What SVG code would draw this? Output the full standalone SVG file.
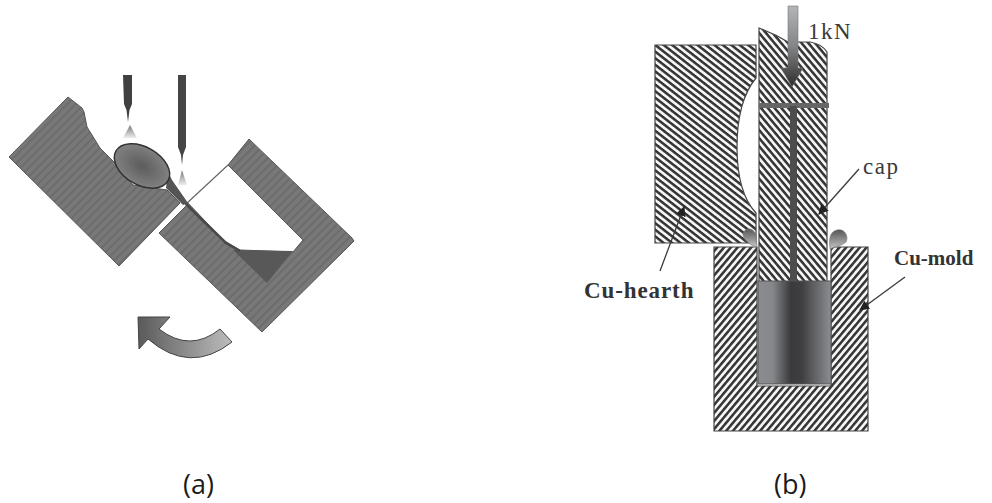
<svg xmlns="http://www.w3.org/2000/svg" width="992" height="503" viewBox="0 0 992 503">
<style>
.lbl{font-family:"Open Sans","Liberation Sans",sans-serif;font-size:27px;fill:#1a1a1a}
.ser{font-family:"Liberation Serif",serif;fill:#3a3a3a;font-size:23px}
.bold{font-family:"Liberation Serif",serif;font-weight:bold;fill:#333}
.hatchA{fill:url(#hA);stroke:#444;stroke-width:1.2}
.hatchB{fill:url(#hB);stroke:#444;stroke-width:1.2}
.hatchC{fill:url(#hC);stroke:#444;stroke-width:1.2}
.lead{stroke:#3a3a3a;stroke-width:1.3;fill:none}
.solid{fill:url(#sd);stroke:#555;stroke-width:1}
</style>
<defs>
<pattern id="hA" width="5.2" height="5.2" patternUnits="userSpaceOnUse" patternTransform="rotate(38)"><rect width="5.2" height="5.2" fill="#f6f6f6"/><rect width="5.2" height="2.5" fill="#333"/></pattern>
<pattern id="hB" width="5.2" height="5.2" patternUnits="userSpaceOnUse" patternTransform="rotate(50)"><rect width="5.2" height="5.2" fill="#f6f6f6"/><rect width="5.2" height="2.5" fill="#333"/></pattern>
<pattern id="hC" width="5.2" height="5.2" patternUnits="userSpaceOnUse" patternTransform="rotate(-50)"><rect width="5.2" height="5.2" fill="#f6f6f6"/><rect width="5.2" height="2.5" fill="#333"/></pattern>
<pattern id="sd" width="6" height="6" patternUnits="userSpaceOnUse" patternTransform="rotate(45)"><rect width="6" height="6" fill="#787878"/><rect width="2" height="6" fill="#6c6c6c"/></pattern>
<linearGradient id="cyl" x1="0" x2="1" y1="0" y2="0"><stop offset="0" stop-color="#8a8c90"/><stop offset=".2" stop-color="#85878a"/><stop offset=".45" stop-color="#3a3a3c"/><stop offset=".6" stop-color="#3f3f41"/><stop offset="1" stop-color="#8c8e92"/></linearGradient>
<linearGradient id="press" x1="0" x2="0" y1="0" y2="1"><stop offset="0" stop-color="#b4b5b7"/><stop offset=".5" stop-color="#838486"/><stop offset="1" stop-color="#2c2c2c"/></linearGradient>
<linearGradient id="drop" x1="0" x2="0" y1="0" y2="1"><stop offset="0" stop-color="#555"/><stop offset="1" stop-color="#c4c4c4"/></linearGradient>
<linearGradient id="curve" x1="0" x2="1" y1="0" y2="0"><stop offset="0" stop-color="#5a5a5a"/><stop offset="1" stop-color="#bdbdbd"/></linearGradient>
<linearGradient id="spray" x1="0" x2="0" y1="0" y2="1"><stop offset="0" stop-color="#777"/><stop offset="1" stop-color="#eee"/></linearGradient>
<radialGradient id="melt"><stop offset="0" stop-color="#5c5c5c"/><stop offset="1" stop-color="#808080"/></radialGradient>
<marker id="ah" markerWidth="11" markerHeight="11" refX="9" refY="5" orient="auto" markerUnits="userSpaceOnUse"><path d="M0,0L10,5L0,10Z" fill="#222"/></marker>
<filter id="soft" x="-5%" y="-5%" width="110%" height="110%"><feGaussianBlur stdDeviation="0.6"/></filter>
</defs>
<rect width="992" height="503" fill="#fff"/>
<g id="panel-a" filter="url(#soft)">
<g id="left-block"><path class="solid" d="M68,97L82,108L84,112L87,127L100,148L115,163L133,185L167,190L180,203L119,266L9,157Z"/></g>
<g id="right-mold"><path class="solid" d="M249,139L352,238L354,241L262,332L159,233L185,207L188,203L223,240L240,250L293,252L303,240L228,165Z"/><path d="M186,204L228,165" stroke="#666" stroke-width="1.2" fill="none"/><path d="M233,250L293,251L267,283Z" fill="#595959"/><path d="M176,193L190,208L226,243L240,251" stroke="#4a4a4a" stroke-width="2.5" fill="none"/></g>
<g id="melt-spoon"><path d="M168,172L172,180L188,203L183,205L166,188Z" fill="#555"/><ellipse cx="142" cy="166" rx="30" ry="19" transform="rotate(30 142 166)" fill="url(#melt)" stroke="#333" stroke-width="1.5"/></g>
<g id="needle-1"><path d="M123,75H132V104L129.500,110L128,122L126.500,110L124,104Z" fill="#3f3f3f"/><path d="M130,125L137,138H123Z" fill="url(#spray)"/></g>
<g id="needle-2"><path d="M178,75H186V147L183,155L182,165L181,155L178,147Z" fill="#444"/><path d="M182,170L187,185H178Z" fill="url(#spray)"/></g>
<g id="rotate-arrow"><path d="M138,317L170,317L159,329Q190,353 220,329L232,342Q190,375 148,339L139,349Z" fill="url(#curve)" stroke="#444" stroke-width="1"/></g>
</g>
<g id="panel-b">
<g id="cu-mold"><path class="hatchC" d="M714,247H757V386H831V247H868V431H714Z"/></g>
<g id="cu-hearth"><path class="hatchA" d="M655,45H756V78C742,95 737,120 737,147C737,175 742,198 756,213V243H655Z"/></g>
<g id="cap"><path class="hatchB" d="M759,28Q775,34 788,42H810Q822,44 827,52V282H759Z"/></g>
<g id="rod"><rect x="759" y="103" width="70" height="5" fill="#666"/><rect x="790" y="106" width="7" height="176" fill="#4d4d4d"/></g>
<g id="sample"><rect x="758" y="281" width="73" height="103" fill="url(#cyl)" stroke="#555"/></g>
<g id="droplet-left"><path d="M757,247C748,245 743,238 743,234C745,227 753,227 756,235Z" fill="url(#drop)" stroke="#777" stroke-width=".6"/></g>
<g id="droplet-right"><path d="M830,249C829,240 829,232 837,230C845,228 849,237 846,242C842,246 836,246 830,249Z" fill="url(#drop)" stroke="#777" stroke-width=".6"/></g>
<g id="press-arrow"><path d="M788,6H798V68H803L792,87L781,68H788Z" fill="url(#press)" stroke="#777" stroke-width=".6"/></g>
</g>
<g id="connectors">
<path class="lead" d="M859,169L819,214" marker-end="url(#ah)"/>
<path class="lead" d="M660,271L684,207" marker-end="url(#ah)"/>
<path class="lead" d="M905,277L860,310" marker-end="url(#ah)"/>
</g>
<g id="labels">
<text class="ser" x="808" y="39" letter-spacing="1.500">1kN</text>
<text class="ser" x="863" y="174" letter-spacing="1.500">cap</text>
<text class="bold" x="584" y="298" font-size="23" letter-spacing=".9">Cu-hearth</text>
<text class="bold" x="894" y="265" font-size="21">Cu-mold</text>
<text class="lbl" x="183" y="494">(a)</text>
<text class="lbl" x="774" y="494">(b)</text>
</g>
</svg>
